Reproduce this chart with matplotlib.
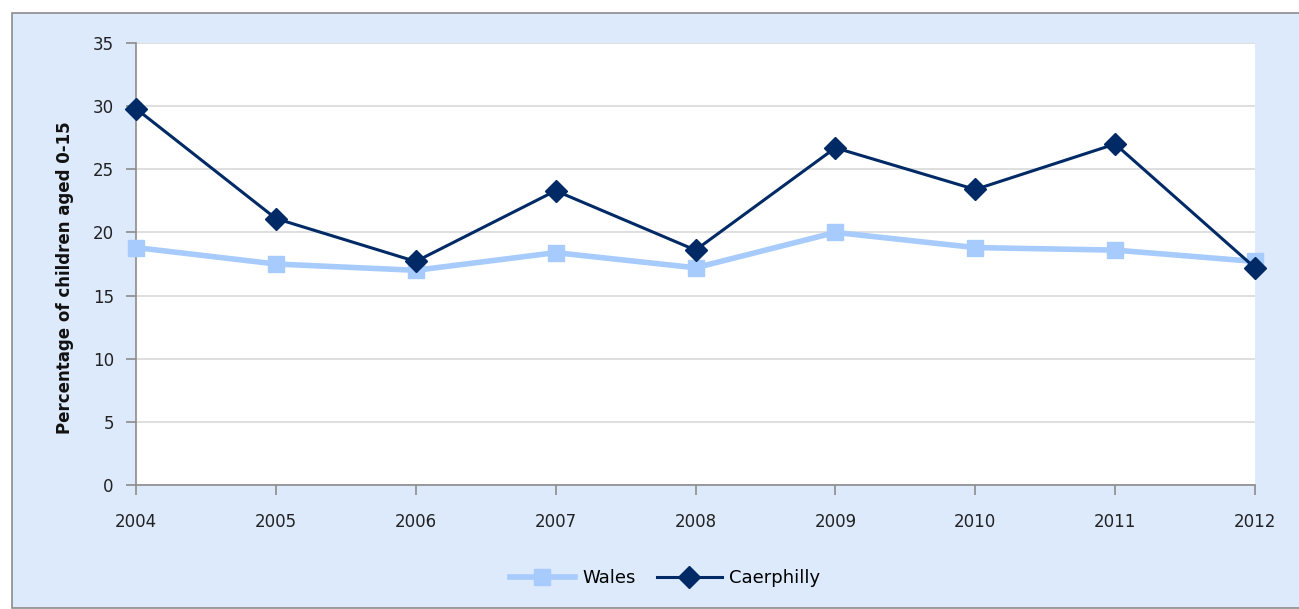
import numpy as np
import matplotlib.pyplot as plt
from matplotlib.patches import Rectangle

years = ["2004", "2005", "2006", "2007", "2008", "2009", "2010", "2011", "2012"]
wales = [18.8, 17.5, 17.0, 18.4, 17.2, 20.0, 18.8, 18.6, 17.7]
caerphilly = [29.8, 21.1, 17.7, 23.3, 18.6, 26.7, 23.4, 27.0, 17.2]

bg = "#dceafc"
wales_col = "#a6cbfc"
caer_col = "#002a66"

fig = plt.figure(figsize=(12.99, 6.09), dpi=100)
fig.patch.set_facecolor("white")
# chart area with grey frame (behind the axes)
fig.patches.append(Rectangle((12 / 1299, 1 - 608 / 609), 1.0, (608 - 13) / 609,
                             transform=fig.transFigure, facecolor=bg,
                             edgecolor="#8c8c8c", linewidth=1.2, zorder=-10))

ax = fig.add_axes([136 / 1299, 1 - 485 / 609, (1255 - 136) / 1299, (485 - 43) / 609])
ax.set_facecolor("white")

x = np.arange(len(years))
ax.plot(x, wales, color=wales_col, linewidth=4, marker="s", markersize=12,
        label="Wales", zorder=3, clip_on=False)
ax.plot(x, caerphilly, color=caer_col, linewidth=2.2, marker="D", markersize=11,
        label="Caerphilly", zorder=4, clip_on=False)

ax.set_xlim(0, len(years) - 1)
ax.set_ylim(0, 35)
ax.set_yticks(np.arange(0, 36, 5))
ax.set_xticks(x)
ax.set_xticklabels(years)
ax.grid(axis="y", color="#d9d9d9", linewidth=1.2)
ax.set_axisbelow(True)

for s in ["top", "right"]:
    ax.spines[s].set_visible(False)
ax.spines["left"].set_color("#8c8c8c")
ax.spines["bottom"].set_color("#8c8c8c")
ax.spines["left"].set_linewidth(1.2)
ax.spines["bottom"].set_linewidth(1.2)
ax.tick_params(axis="both", colors="#8c8c8c", labelcolor="#222222", labelsize=12,
               length=7, width=1.2)
ax.tick_params(axis="x", pad=13)
ax.tick_params(axis="y", pad=9)

ax.set_ylabel("Percentage of children aged 0-15", fontsize=12, fontweight="bold",
              color="#111111")
ax.yaxis.set_label_coords(-0.055, 0.47)

fig.legend(loc="center", bbox_to_anchor=(665 / 1299, 1 - 578 / 609), ncol=2,
           frameon=False, fontsize=13, handlelength=3.6, columnspacing=1.2,
           handletextpad=0.4)

fig.savefig("out.png", dpi=100)
